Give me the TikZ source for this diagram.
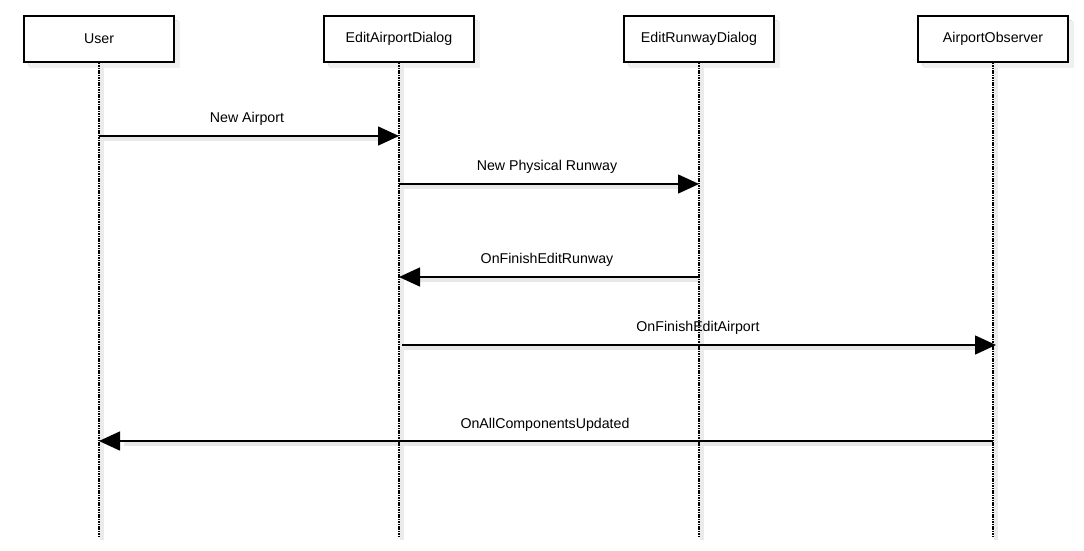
\documentclass[tikz,border=0pt]{standalone}
\usepackage{fontspec}
\setmainfont{Liberation Sans}
\usetikzlibrary{arrows.meta}
\begin{document}
\begin{tikzpicture}[x=1pt,y=-1pt,
  actor/.style={draw=black, line width=1.5pt, fill=white, minimum width=150pt, minimum height=46pt, inner sep=0pt, font=\fontsize{14.2}{16}\selectfont},
  life/.style={line width=2pt, dash pattern=on 1.6pt off 0.8pt},
  lifeshadow/.style={line width=4pt, draw=black!8},
  msg/.style={line width=1.5pt, -{Triangle[length=21pt,width=19pt]}},
  msgshadow/.style={line width=4pt, draw=black!9},
  lbl/.style={font=\fontsize{14.2}{16}\selectfont, inner sep=0pt}]
\useasboundingbox (0,0) rectangle (1084,550);
\fill[white] (0,0) rectangle (1084,550);
% box shadows
\foreach \cx in {99,399,699,993}{
  \fill[black!12] (\cx-75+4,16+4) rectangle (\cx+75+4,62+4);
  \fill[black!6] (\cx-75+5,16+5) rectangle (\cx+75+6,62+6);
}
% lifeline shadows
\foreach \cx in {99,399,699,993}{
  \draw[lifeshadow] (\cx+3,64) -- (\cx+3,540);
}
% message shadows
\draw[msgshadow] (101,139) -- (380,139);
\draw[msgshadow] (401,187) -- (680,187);
\draw[msgshadow] (420,280) -- (699,280);
\draw[msgshadow] (404,348) -- (975,348);
\draw[msgshadow] (124,444) -- (993,444);
% actors
\node[actor] (user) at (99,39) {User};
\node[actor] (ead) at (399,39) {EditAirportDialog};
\node[actor] (erd) at (699,39) {EditRunwayDialog};
\node[actor] (ao) at (993,39) {AirportObserver};
% lifeline ends
\coordinate (userE) at (99,537);
\coordinate (eadE) at (399,537);
\coordinate (erdE) at (699,537);
\coordinate (aoE) at (993,537);
\draw[life] (user.south) -- (userE);
\draw[life] (ead.south) -- (eadE);
\draw[life] (erd.south) -- (erdE);
\draw[life] (ao.south) -- (aoE);
% messages
\draw[msg] (99,136) -- (399,136);
\node[lbl] (m1) at (247,118.5) {New Airport};
\draw[msg] (399,184) -- (699,184);
\node[lbl] (m2) at (547,166.5) {New Physical Runway};
\draw[msg] (699,277) -- (399,277);
\node[lbl] (m3) at (547,259.5) {OnFinishEditRunway};
\draw[msg] (402,345) -- (996,345);
\node[lbl] (m4) at (698,327.5) {OnFinishEditAirport};
\draw[msg] (993,441) -- (99,441);
\node[lbl] (m5) at (545,424.5) {OnAllComponentsUpdated};
\end{tikzpicture}
\end{document}
